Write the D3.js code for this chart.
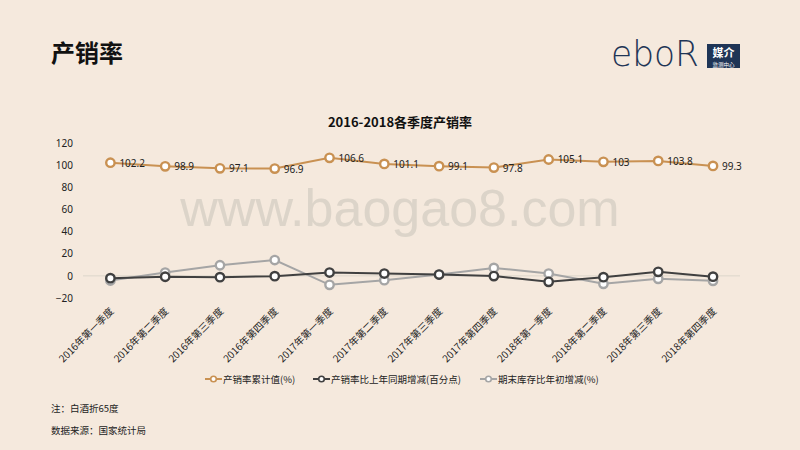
<!DOCTYPE html>
<html><head><meta charset="utf-8">
<script src="https://cdn.jsdelivr.net/npm/d3@7"></script>
<style>
html,body{margin:0;padding:0;background:#f5e9dd;}
svg{display:block;font-family:"Noto Sans CJK SC","Noto Sans",sans-serif;}
</style></head>
<body><svg id="c" width="800" height="450"></svg>
<script>
const categories = ["2016年第一季度","2016年第二季度","2016年第三季度","2016年第四季度",
  "2017年第一季度","2017年第二季度","2017年第三季度","2017年第四季度",
  "2018年第一季度","2018年第二季度","2018年第三季度","2018年第四季度"];
const cumRate = [102.2, 98.9, 97.1, 96.9, 106.6, 101.1, 99.1, 97.8, 105.1, 103, 103.8, 99.3];
const yoyChange = [-2.1, -0.8, -1.2, -0.3, 3.0, 2.1, 1.2, -0.2, -5.4, -1.2, 3.6, -0.7];
const inventoryChange = [-4.2, 3.0, 9.6, 14.3, -8.1, -3.9, 1.2, 7.2, 2.1, -7.2, -2.7, -4.5];
const yTicks = [-20, 0, 20, 40, 60, 80, 100, 120];
const seriesNames = ["产销率累计值(%)", "产销率比上年同期增减(百分点)", "期末库存比年初增减(%)"];
const colors = ["#c99152", "#404040", "#a5a5a5"];

const svg = d3.select("#c");
svg.append("rect").attr("width",800).attr("height",450).attr("fill","#f5e9dd");

// page title
svg.append("text").attr("x",51).attr("y",62).attr("font-size",24).attr("font-weight","bold")
  .attr("fill","#111").text("产销率");

// logo
const logo = svg.append("g");
logo.append("text").attr("x",611).attr("y",66).attr("font-family","'DejaVu Sans',sans-serif")
  .attr("font-size",36).attr("font-weight","200").attr("fill","#1f3556")
  .attr("textLength",88).attr("lengthAdjust","spacingAndGlyphs")
  .text("eboR");
logo.append("rect").attr("x",707).attr("y",44).attr("width",33).attr("height",24).attr("fill","#1f3556");
logo.append("text").attr("x",723.5).attr("y",57).attr("text-anchor","middle").attr("font-size",11)
  .attr("font-weight","bold").attr("fill","#fff").attr("font-family","'Noto Sans CJK SC',serif").text("媒介");
logo.append("text").attr("x",723.5).attr("y",66.5).attr("text-anchor","middle").attr("font-size",5.5)
  .attr("fill","#fff").text("监测中心");

// watermark
svg.append("text").attr("x",400).attr("y",226).attr("text-anchor","middle")
  .attr("font-family","'Liberation Sans',Arial,sans-serif").attr("font-size",52)
  .attr("fill","#d8d1c6").attr("opacity",0.85).text("www.baogao8.com");

// chart title
svg.append("text").attr("x",400).attr("y",127).attr("text-anchor","middle").attr("font-size",13)
  .attr("font-weight","bold").attr("fill","#111").text("2016-2018各季度产销率");

const x = d3.scalePoint().domain(categories).range([110.4, 713]);
const y = d3.scaleLinear().domain([-20,120]).range([298,143]);

// y axis labels
const yAxis = svg.append("g").attr("transform","translate(75,0)")
  .call(d3.axisLeft(y).tickValues(yTicks).tickSize(0).tickPadding(2));
yAxis.select(".domain").remove();
yAxis.selectAll("text").attr("font-size",10).attr("fill","#222")
  .attr("font-family","'Noto Sans','Liberation Sans',sans-serif");

// zero line
svg.append("line").attr("x1",83).attr("x2",740).attr("y1",y(0)).attr("y2",y(0))
  .attr("stroke","#dcd6cc").attr("stroke-width",1);

// x labels
const xl = svg.append("g");
categories.forEach(c=>{
  xl.append("text").attr("transform",`translate(${x(c)+4},${312}) rotate(-45)`)
    .attr("text-anchor","end").attr("font-size",10).attr("fill","#222").text(c);
});

const allSeries = [cumRate, yoyChange, inventoryChange];
const line = d3.line().x((d,i)=>x(categories[i])).y(d=>y(d));
[2,1,0].forEach(si=>{
  const data = allSeries[si];
  const g = svg.append("g");
  g.append("path").datum(data).attr("d",line).attr("fill","none")
    .attr("stroke",colors[si]).attr("stroke-width",2);
  g.selectAll("circle").data(data).join("circle")
    .attr("cx",(d,i)=>x(categories[i])).attr("cy",d=>y(d)).attr("r",4.2)
    .attr("fill","#fff").attr("stroke",colors[si]).attr("stroke-width",2.4);
});

// data labels
svg.append("g").selectAll("text").data(cumRate).join("text")
  .attr("x",(d,i)=>x(categories[i])+9).attr("y",d=>y(d)+4)
  .attr("font-size",10).attr("fill","#222")
  .attr("font-family","'Noto Sans','Liberation Sans',sans-serif")
  .text(d=>d);

// legend
const legX = [205, 313, 480];
seriesNames.forEach((n,i)=>{
  const g = svg.append("g").attr("transform",`translate(${legX[i]},379)`);
  g.append("line").attr("x1",0).attr("x2",17).attr("stroke",colors[i]).attr("stroke-width",2);
  g.append("circle").attr("cx",8.5).attr("cy",0).attr("r",2.8).attr("fill","#fff")
    .attr("stroke",colors[i]).attr("stroke-width",1.6);
  g.append("text").attr("x",18).attr("y",3.5).attr("font-size",9.5).attr("fill","#222").text(n);
});

// footnotes
svg.append("text").attr("x",51).attr("y",412).attr("font-size",9.5).attr("fill","#222").text("注：白酒折65度");
svg.append("text").attr("x",51).attr("y",434).attr("font-size",9.5).attr("fill","#222").text("数据来源：国家统计局");
</script></body></html>
